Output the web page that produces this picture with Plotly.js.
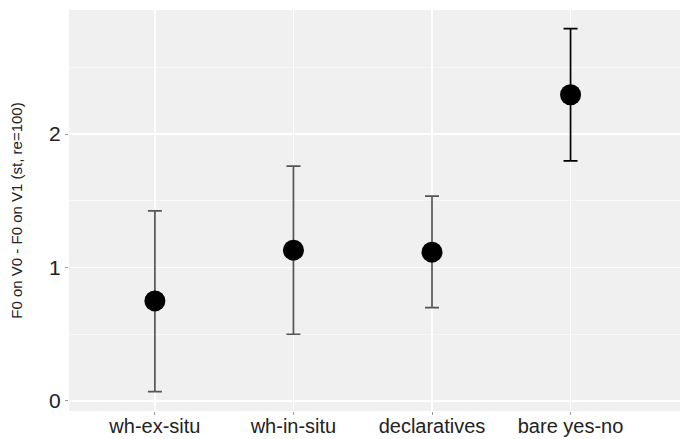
<!DOCTYPE html>
<html><head><meta charset="utf-8">
<script src="https://cdn.plot.ly/plotly-3.0.1.min.js"></script>
<style>html,body{margin:0;padding:0;background:#fff}#chart{width:684px;height:439px}</style>
</head><body><div id="chart"></div>
<script>
const categories = ["wh-ex-situ", "wh-in-situ", "declaratives", "bare yes-no"];
const means = [0.75, 1.13, 1.115, 2.295];
const upper = [1.425, 1.76, 1.535, 2.79];
const lower = [0.07, 0.50, 0.70, 1.80];
const barColors = ["#555555", "#555555", "#555555", "#000000"];

const traces = categories.map((c, i) => ({
  type: "scatter", mode: "markers",
  x: [c], y: [means[i]],
  marker: {color: "#000", size: 21},
  error_y: {type: "data", symmetric: false, array: [upper[i] - means[i]], arrayminus: [means[i] - lower[i]],
    color: barColors[i], thickness: 1.7, width: 7},
  showlegend: false, hoverinfo: "skip"
}));

const font = {family: "Liberation Sans, Arial, sans-serif", color: "#222"};
Plotly.newPlot("chart", traces, {
  width: 684, height: 439,
  margin: {l: 69, r: 4, t: 10, b: 28},
  paper_bgcolor: "#fff", plot_bgcolor: "#f0f0f0",
  font: font,
  xaxis: {type: "category", categoryarray: categories, range: [-0.62, 3.79],
    showgrid: true, gridcolor: "#fff", gridwidth: 1.4, zeroline: false,
    ticks: "outside", ticklen: 3, tickcolor: "#999", tickfont: {size: 20, color: "#222"},
    ticklabelstandoff: -6, fixedrange: true},
  yaxis: {range: [-0.075, 2.93], tickvals: [0, 1, 2], ticktext: ["0", "1", "2"],
    showgrid: true, gridcolor: "#fff", gridwidth: 1.4, zeroline: false,
    minor: {tickvals: [0.5, 1.5, 2.5], showgrid: true, gridcolor: "#fafafa", gridwidth: 0.9, ticks: ""},
    ticks: "outside", ticklen: 3, tickcolor: "#999", tickfont: {size: 21, color: "#222"},
    title: {text: "F0 on V0 - F0 on V1 (st, re=100)", font: {size: 15, color: "#222"}, standoff: 22}},
}, {staticPlot: true});
</script></body></html>
